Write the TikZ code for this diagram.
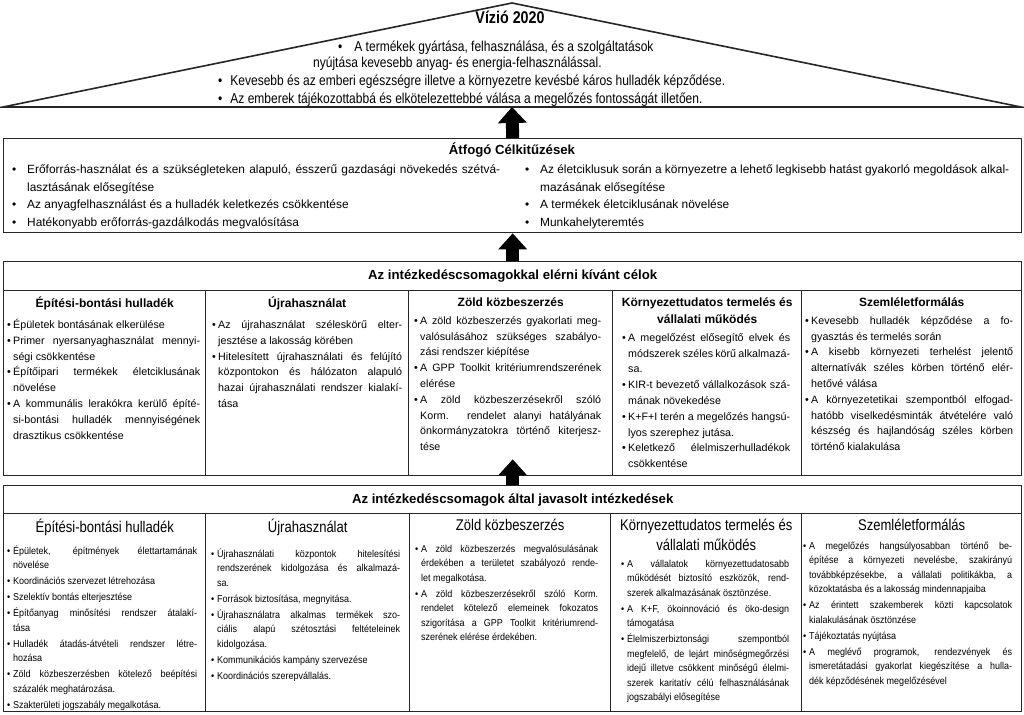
\documentclass[tikz,border=0pt]{standalone}
\usepackage{fontspec}
\setmainfont{Liberation Sans}
\newfontfamily\narrowfont[FakeStretch=0.84]{Liberation Sans}
\newfontfamily\slimfont[FakeStretch=0.9]{Liberation Sans}
\usetikzlibrary{arrows.meta}
\definecolor{frameline}{RGB}{38,38,38}
% bullet item with hanging indent
\newcommand\pont[1][6pt]{\par\hangindent=#1\hangafter=1\noindent\strut\makebox[#1][l]{\textbullet}}

\begin{document}
\begin{tikzpicture}[x=1pt, y=-1pt,
  frame/.style={draw=frameline, line width=1.4pt, inner sep=0pt},
  vtxt/.style={font=\narrowfont\fontsize{14.3}{17}\selectfont, inner sep=0pt, anchor=base west},
  hdr/.style={font=\bfseries\fontsize{13.2}{16}\selectfont},
  glist/.style={font=\fontsize{11.9}{17.6}\selectfont, align=justify, inner sep=0pt, anchor=north west},
  chead/.style={font=\bfseries\fontsize{12}{17}\selectfont, align=center, inner sep=2pt, anchor=north},
  cbody/.style={font=\fontsize{10.7}{15.8}\selectfont, align=justify, inner sep=0pt, anchor=north west},
  jhead/.style={font=\narrowfont\fontsize{15.5}{20}\selectfont, align=center, inner sep=2pt, anchor=north},
  jbody/.style={font=\slimfont\fontsize{10}{14.5}\selectfont, align=justify, inner sep=0pt, anchor=north west,
                execute at begin node={\setlength\parskip{1.5pt}}},
  uparrow/.style={line width=13pt, -{Triangle[length=16pt,width=29pt,line width=0pt]}, black}]
  \useasboundingbox (0,0) rectangle (1024,714);

  % roof
  \coordinate (eaveL) at (3,107);
  \coordinate (eaveR) at (1021,107);
  \coordinate (ridge) at (512,3);
  \coordinate (roof) at (512,107);
  \draw[frameline, line width=1.6pt, line join=miter] (eaveL) -- (ridge) -- (eaveR) -- cycle;
  \node[font=\narrowfont\bfseries\fontsize{17}{20}\selectfont] (vizio) at (510,17) {Vízió 2020};
  \node[vtxt] (v1) at (338,52) {\textbullet\hspace{12pt}A termékek gyártása, felhasználása, és a szolgáltatások};
  \node[vtxt] (v2) at (313,68) {nyújtása kevesebb anyag- és energia-felhasználással.};
  \node[vtxt] (v3) at (218,86) {\textbullet\hspace{8pt}Kevesebb és az emberi egészségre illetve a környezetre kevésbé káros hulladék képződése.};
  \node[vtxt] (v4) at (218,104) {\textbullet\hspace{8pt}Az emberek tájékozottabbá és elkötelezettebbé válása a megelőzés fontosságát illetően.};

  % overarching goals
  \node[frame, minimum width=1018pt, minimum height=94pt, anchor=north west] (atfogo) at (3,138) {};
  \node[hdr] (atfogoT) at (512,150) {Átfogó Célkitűzések};
  \node[glist, text width=488pt] (atfogoL) at (12,156) {%
    \pont[15pt]Erőforrás-használat és a szükségleteken alapuló, ésszerű gazdasági növekedés szétvá-\linebreak lasztásának elősegítése
    \pont[15pt]Az anyagfelhasználást és a hulladék keletkezés csökkentése
    \pont[15pt]Hatékonyabb erőforrás-gazdálkodás megvalósítása\par};
  \node[glist, text width=484pt] (atfogoR) at (525,156) {%
    \pont[15pt]Az életciklusuk során a környezetre a lehető legkisebb hatást gyakorló megoldások alkal-\linebreak mazásának elősegítése
    \pont[15pt]A termékek életciklusának növelése
    \pont[15pt]Munkahelyteremtés\par};

  % targets of the packages
  \node[frame, minimum width=1018pt, minimum height=214pt, anchor=north west] (celok) at (3,261) {};
  \node[frame, hdr, minimum width=1018pt, minimum height=29pt, anchor=north west] (celokT) at (3,261)
    {Az intézkedéscsomagokkal elérni kívánt célok};
  \foreach \x/\w [count=\i] in {3/202,205/203,408/204,612/189,801/220}
    \node[frame, minimum width=\w pt, minimum height=185pt, anchor=north west] (cel\i) at (\x,290) {};
  \foreach \i/\t in {1/Építési-bontási hulladék, 2/Újrahasználat, 3/Zöld közbeszerzés,
                     4/{Környezettudatos termelés és\\vállalati működés}, 5/Szemléletformálás}
    \node[chead] (celH\i) at ([yshift=-5pt]cel\i.north) {\t};
  \node[cbody, text width=193pt] (celB1) at ([xshift=4pt]celH1.south -| cel1.west) {%
    \pont Épületek bontásának elkerülése
    \pont Primer nyersanyaghasználat mennyi-\linebreak ségi csökkentése
    \pont Építőipari termékek életciklusának\linebreak növelése
    \pont A kommunális lerakókra kerülő építé-\linebreak si-bontási hulladék mennyiségének\linebreak drasztikus csökkentése\par};
  \node[cbody, text width=190pt] (celB2) at ([xshift=7pt]celH2.south -| cel2.west) {%
    \pont Az újrahasználat széleskörű elter-\linebreak jesztése a lakosság körében
    \pont Hitelesített újrahasználati és felújító\linebreak központokon és hálózaton alapuló\linebreak hazai újrahasználati rendszer kialakí-\linebreak tása\par};
  \node[cbody, text width=187pt] (celB3) at ([xshift=6pt]celH3.south -| cel3.west) {%
    \pont A zöld közbeszerzés gyakorlati meg-\linebreak valósulásához szükséges szabályo-\linebreak zási rendszer kiépítése
    \pont A GPP Toolkit kritériumrendszerének\linebreak elérése
    \pont A zöld közbeszerzésekről szóló\linebreak Korm. rendelet alanyi hatályának\linebreak önkormányzatokra történő kiterjesz-\linebreak tése\par};
  \node[cbody, text width=168pt] (celB4) at ([xshift=10pt]celH4.south -| cel4.west) {%
    \pont A megelőzést elősegítő elvek és\linebreak módszerek széles körű alkalmazá-\linebreak sa.
    \pont KIR-t bevezető vállalkozások szá-\linebreak mának növekedése
    \pont K+F+I terén a megelőzés hangsú-\linebreak lyos szerephez jutása.
    \pont Keletkező élelmiszerhulladékok\linebreak csökkentése\par};
  \node[cbody, text width=208pt] (celB5) at ([xshift=4pt]celH5.south -| cel5.west) {%
    \pont Kevesebb hulladék képződése a fo-\linebreak gyasztás és termelés során
    \pont A kisebb környezeti terhelést jelentő\linebreak alternatívák széles körben történő elér-\linebreak hetővé válása
    \pont A környezetetikai szempontból elfogad-\linebreak hatóbb viselkedésminták átvételére való\linebreak készség és hajlandóság széles körben\linebreak történő kialakulása\par};

  % proposed measures
  \node[frame, minimum width=1018pt, minimum height=226pt, anchor=north west] (javas) at (3,485) {};
  \node[frame, hdr, minimum width=1018pt, minimum height=28pt, anchor=north west] (javasT) at (3,485)
    {Az intézkedéscsomagok által javasolt intézkedések};
  \foreach \x/\w [count=\i] in {3/202,205/204,409/201,610/191,801/220}
    \node[frame, minimum width=\w pt, minimum height=198pt, anchor=north west] (jav\i) at (\x,513) {};
  \foreach \i/\t in {1/Építési-bontási hulladék, 2/Újrahasználat, 3/Zöld közbeszerzés,
                     4/{Környezettudatos termelés és\\vállalati működés}, 5/Szemléletformálás}
    \node[jhead] (javH\i) at ([yshift=-4pt]jav\i.north) {\t};
  \node[jbody, text width=190pt] (javB1) at ([xshift=4pt]javH1.south -| jav1.west) {%
    \pont Épületek, építmények élettartamának\linebreak növelése
    \pont Koordinációs szervezet létrehozása
    \pont Szelektív bontás elterjesztése
    \pont Építőanyag minősítési rendszer átalakí-\linebreak tása
    \pont Hulladék átadás-átvételi rendszer létre-\linebreak hozása
    \pont Zöld közbeszerzésben kötelező beépítési\linebreak százalék meghatározása.
    \pont Szakterületi jogszabály megalkotása.\par};
  \node[jbody, text width=189pt] (javB2) at ([xshift=6pt,yshift=-3pt]javH2.south -| jav2.west) {%
    \pont Újrahasználati központok hitelesítési\linebreak rendszerének kidolgozása és alkalmazá-\linebreak sa.
    \pont Források biztosítása, megnyitása.
    \pont Újrahasználatra alkalmas termékek szo-\linebreak ciális alapú szétosztási feltételeinek\linebreak kidolgozása.
    \pont Kommunikációs kampány szervezése
    \pont Koordinációs szerepvállalás.\par};
  \node[jbody, text width=183pt] (javB3) at ([xshift=6pt,yshift=-3pt]javH3.south -| jav3.west) {%
    \pont A zöld közbeszerzés megvalósulásának\linebreak érdekében a területet szabályozó rende-\linebreak let megalkotása.
    \pont A zöld közbeszerzésekről szóló Korm.\linebreak rendelet kötelező elemeinek fokozatos\linebreak szigorítása a GPP Toolkit kritériumrend-\linebreak szerének elérése érdekében.\par};
  \node[jbody, text width=168pt] (javB4) at ([xshift=11pt,yshift=2pt]javH4.south -| jav4.west) {%
    \pont A vállalatok környezettudatosabb\linebreak működését biztosító eszközök, rend-\linebreak szerek alkalmazásának ösztönzése.
    \pont A K+F, ökoinnováció és öko-design\linebreak támogatása
    \pont Élelmiszerbiztonsági szempontból\linebreak megfelelő, de lejárt minőségmegőrzési\linebreak idejű illetve csökkent minőségű élelmi-\linebreak szerek karitatív célú felhasználásának\linebreak jogszabályi elősegítése\par};
  \node[jbody, text width=209pt] (javB5) at ([xshift=2pt]javH5.south -| jav5.west) {%
    \pont A megelőzés hangsúlyosabban történő be-\linebreak építése a környezeti nevelésbe, szakirányú\linebreak továbbképzésekbe, a vállalati politikákba, a\linebreak közoktatásba és a lakosság mindennapjaiba
    \pont Az érintett szakemberek közti kapcsolatok\linebreak kialakulásának ösztönzése
    \pont Tájékoztatás nyújtása
    \pont A meglévő programok, rendezvények és\linebreak ismeretátadási gyakorlat kiegészítése a hulla-\linebreak dék képződésének megelőzésével\par};

  % upward arrows
  \draw[uparrow] (atfogo.north) -- (roof);
  \draw[uparrow] (celok.north) -- (atfogo.south);
  \draw[uparrow] (javas.north) -- ([yshift=17pt]celok.south);
\end{tikzpicture}
\end{document}
